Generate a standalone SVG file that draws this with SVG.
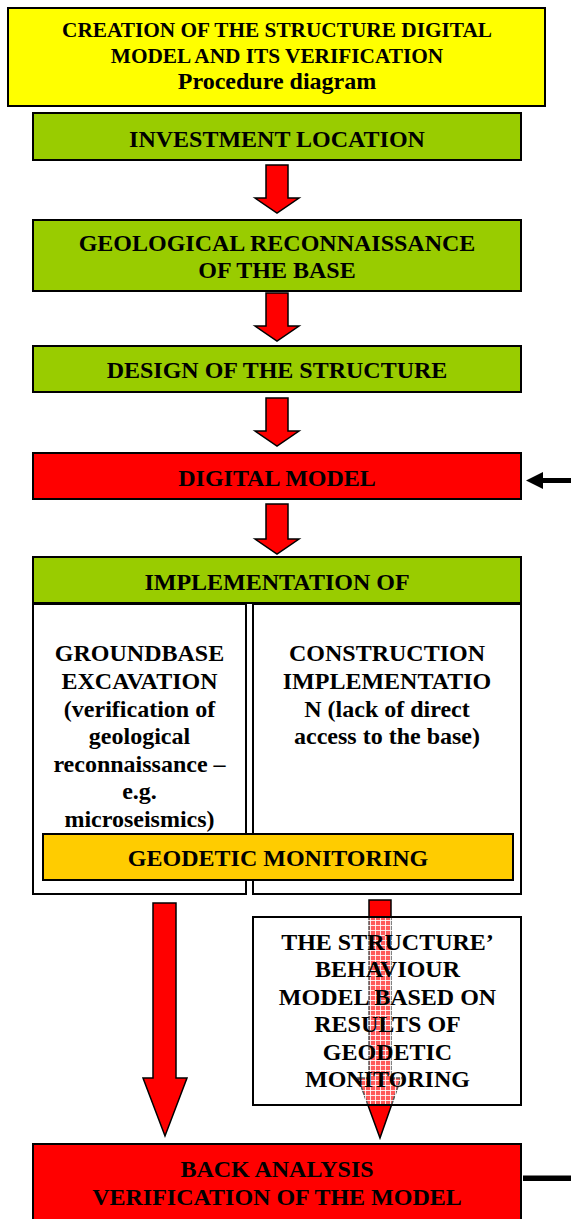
<svg xmlns="http://www.w3.org/2000/svg" width="571" height="1219" viewBox="0 0 571 1219">
<defs>
<style>
.box{stroke:#000;stroke-width:2}
.t{font-family:"Liberation Serif","Times New Roman",serif;font-weight:bold;fill:#000;text-anchor:middle}
.n{font-size:24px}
.ti{font-size:21.3px}
.arr{fill:#FF0000;stroke:#000;stroke-width:1.5;stroke-linejoin:miter}
</style>
<pattern id="grid" width="5" height="5" patternUnits="userSpaceOnUse">
<rect width="5" height="5" fill="#fff" fill-opacity="0.35"/>
<path d="M0 0.5H5M0.5 0V5" stroke="#fff" stroke-width="1" stroke-opacity="0.85"/>
</pattern>
</defs>
<rect width="571" height="1219" fill="#fff"/>

<g id="connectors">
<polygon class="arr" points="266,165 288,165 288,198 299,198 277,213 255,198 266,198"/>
<polygon class="arr" points="266,293 288,293 288,326 299,326 277,341 255,326 266,326"/>
<polygon class="arr" points="266,398 288,398 288,431 299,431 277,446 255,431 266,431"/>
<polygon class="arr" points="266,504 288,504 288,539 299,539 277,554 255,539 266,539"/>
<polygon class="arr" points="153,903 176,903 176,1078 187,1078 165,1136 143,1078 153,1078"/>
<polygon class="arr" points="369,900 391,900 391,1078 401,1078 380,1138 358,1078 369,1078"/>
<rect x="540" y="478" width="31" height="5" fill="#000"/>
<polygon points="526,480.5 543,472 543,489" fill="#000"/>
<rect x="523" y="1175.5" width="48" height="5.5" fill="#000"/>
</g>

<g id="title">
<rect class="box" x="8" y="8" width="537" height="98" fill="#FFFF00"/>
<text class="t ti" x="277" y="37">CREATION OF THE STRUCTURE DIGITAL</text>
<text class="t ti" x="277" y="63">MODEL AND ITS VERIFICATION</text>
<text class="t n" x="277" y="89">Procedure diagram</text>
</g>

<g id="investment">
<rect class="box" x="33" y="113" width="488" height="47" fill="#99CC00"/>
<text class="t n" x="277" y="147">INVESTMENT LOCATION</text>
</g>

<g id="geological">
<rect class="box" x="33" y="220" width="488" height="71" fill="#99CC00"/>
<text class="t n" x="277" y="251">GEOLOGICAL RECONNAISSANCE</text>
<text class="t n" x="277" y="278">OF THE BASE</text>
</g>

<g id="design">
<rect class="box" x="33" y="346" width="488" height="46" fill="#99CC00"/>
<text class="t n" x="277" y="378">DESIGN OF THE STRUCTURE</text>
</g>

<g id="digital-model">
<rect class="box" x="33" y="453" width="488" height="46" fill="#FF0000"/>
<text class="t n" x="277" y="486">DIGITAL MODEL</text>
</g>

<g id="implementation">
<rect class="box" x="33" y="557" width="488" height="46" fill="#99CC00"/>
<text class="t n" x="277" y="590">IMPLEMENTATION OF</text>
</g>

<g id="groundbase">
<rect class="box" x="33" y="604" width="213" height="290" fill="#fff"/>
<text class="t n" x="139.5" y="661">GROUNDBASE</text>
<text class="t n" x="139.5" y="689">EXCAVATION</text>
<text class="t n" x="139.5" y="717">(verification of</text>
<text class="t n" x="139.5" y="744">geological</text>
<text class="t n" x="139.5" y="772">reconnaissance –</text>
<text class="t n" x="139.5" y="799">e.g.</text>
<text class="t n" x="139.5" y="827">microseismics)</text>
</g>

<g id="construction">
<rect class="box" x="253" y="604" width="268" height="290" fill="#fff"/>
<text class="t n" x="387" y="661">CONSTRUCTION</text>
<text class="t n" x="387" y="689">IMPLEMENTATIO</text>
<text class="t n" x="387" y="717">N (lack of direct</text>
<text class="t n" x="387" y="744">access to the base)</text>
</g>

<g id="geodetic-monitoring">
<rect class="box" x="43" y="834" width="470" height="46" fill="#FFCC00"/>
<text class="t n" x="278" y="866">GEODETIC MONITORING</text>
</g>

<g id="behaviour-model">
<rect class="box" x="253" y="917" width="268" height="188" fill="url(#grid)"/>
<text class="t n" x="387.5" y="950">THE STRUCTURE’</text>
<text class="t n" x="387.5" y="977">BEHAVIOUR</text>
<text class="t n" x="387.5" y="1005">MODEL BASED ON</text>
<text class="t n" x="387.5" y="1032">RESULTS OF</text>
<text class="t n" x="387.5" y="1060">GEODETIC</text>
<text class="t n" x="387.5" y="1087">MONITORING</text>
</g>

<g id="back-analysis">
<rect class="box" x="33" y="1144" width="488" height="90" fill="#FF0000"/>
<text class="t n" x="277" y="1177">BACK ANALYSIS</text>
<text class="t n" x="277" y="1205">VERIFICATION OF THE MODEL</text>
</g>
</svg>
